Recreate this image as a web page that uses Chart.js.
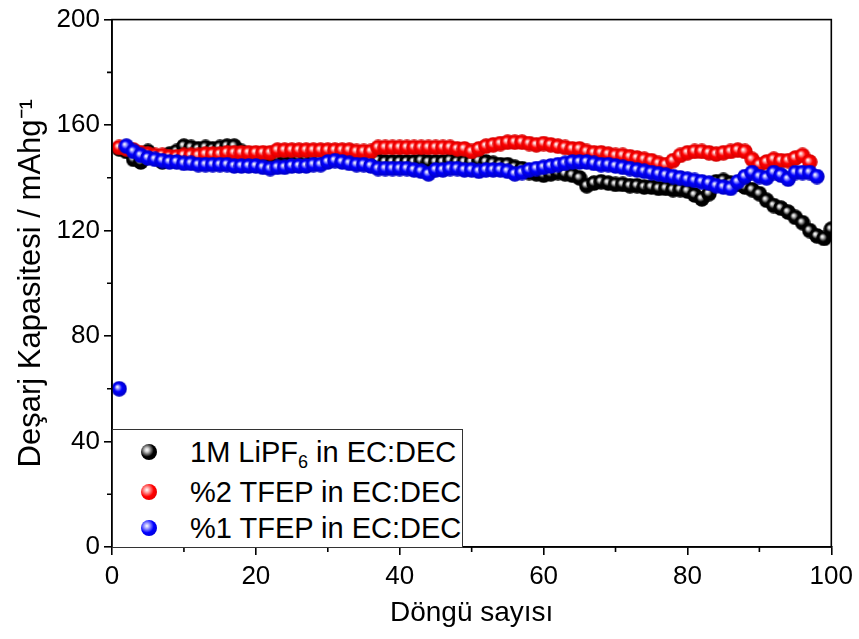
<!DOCTYPE html>
<html>
<head>
<meta charset="utf-8">
<script src="https://cdn.jsdelivr.net/npm/chart.js@4.4.0/dist/chart.umd.min.js"></script>
<style>
  html, body { margin: 0; padding: 0; background: #fff; }
  #wrap { position: relative; width: 859px; height: 639px; }
  #legend { position: absolute; left: 112px; top: 429px; width: 349px; height: 117px;
    border: 1px solid #333; background: #fff; font-family: "Liberation Sans", Arial, sans-serif; }
  .row { position: absolute; left: 0; height: 36px; width: 100%; }
  .mk { position: absolute; left: 28px; width: 16px; height: 16px; border-radius: 50%; }
  .tx { position: absolute; left: 77px; font-size: 29px; line-height: 36px; color: #000; white-space: nowrap; }
  .tx sub { font-size: 18px; vertical-align: -6px; line-height: 0; }
</style>
</head>
<body>
<div id="wrap">
  <canvas id="c" width="859" height="639"></canvas>
  <div id="legend"></div>
</div>
<script>
// ---- data ----
const seriesLabels = ['1M LiPF<sub>6</sub> in EC:DEC', '%2 TFEP in EC:DEC', '%1 TFEP in EC:DEC'];
const seriesLabelsPlain = ['1M LiPF\u2086 in EC:DEC', '%2 TFEP in EC:DEC', '%1 TFEP in EC:DEC'];
const xTicks = [0, 20, 40, 60, 80, 100];
const yTicks = [0, 40, 80, 120, 160, 200];

const lipf6 = [
  151, 150, 147, 146, 150, 148, 146, 149, 150, 152,
  151.5, 151, 151.5, 151, 151.5, 152, 152, 150, 149, 148.5,
  148.5, 148, 148, 148.5, 148.5, 148, 148, 148, 147.5, 147.5,
  147.5, 147.5, 147, 147, 147, 146.5, 146.5, 146, 146, 146,
  146, 146, 146.5, 146, 146, 146, 146.5, 146, 146, 146,
  146.5, 146, 145.5, 145, 145, 144, 143.5, 142, 141.5, 141,
  141.5, 142, 141.5, 141, 140, 137, 138, 138.5, 138, 137.5,
  137.5, 137, 137, 136.5, 136.5, 136, 136, 135.5, 135.5, 135,
  133.5, 132, 134, 138.5, 139, 138, 137.5, 136.5, 135.5, 134,
  131.5, 129.5, 128.5, 127, 125, 123, 120, 118, 117, 120.5
];
const tfep2 = [
  151.5, 151, 150.5, 149.5, 149, 148.5, 148.5, 148, 148, 148.5,
  148.5, 148.5, 149, 149, 149, 149.5, 149.5, 149.5, 149.5, 149.5,
  149.5, 149.5, 150.5, 150.5, 150.5, 150.5, 150.5, 150.5, 150.5, 150.5,
  150.5, 150.5, 150.5, 150, 150, 150, 151.5, 151.5, 151.5, 151.5,
  151.5, 151.5, 151.5, 151.5, 151.5, 151.5, 151.5, 151, 151, 150,
  151, 152, 152.5, 153, 153.5, 153.5, 153.5, 153, 152.5, 153,
  152.5, 152, 151.5, 151, 151, 150, 149.5, 149.5, 149, 148.5,
  148.5, 148, 147.5, 147, 146.5, 145.5, 145, 146.5, 148.5, 149.5,
  150, 150, 149.5, 149, 149.5, 150, 150.5, 150, 147, 145,
  146, 147, 146.5, 146.5, 147.5, 148.5, 146
];
const tfep1 = [
  60, 152, 150, 148.5, 147.5, 147, 146.5, 146, 146, 145.5,
  145.5, 145, 145, 145, 145, 145, 144.5, 144.5, 144.5, 144.5,
  144, 143.5, 144, 144, 144.5, 144.5, 144.5, 145, 145, 146,
  146.5, 146, 145.5, 145, 145, 144.5, 143.5, 143.5, 143.5, 143.5,
  143.5, 143, 142.5, 141.5, 143, 143, 143.5, 143.5, 143, 143,
  142.5, 143, 143, 143, 142.5, 141.5, 142, 143, 143.5, 144,
  144.5, 145, 145.5, 146, 146, 146, 145.5, 145, 145, 144.5,
  144, 143.5, 143, 142.5, 142, 141.5, 141, 140.5, 140, 139.5,
  139, 138.5, 138, 137, 136.5, 136, 138.5, 140.5, 142, 140.5,
  140, 142, 141, 139.5, 142, 142, 142, 140.5
];

// ---- styles ----
const sphereStyles = [
  { hl: '#cfcfcf', body: '#000000', edge: '#000000' },
  { hl: '#ffb8b8', body: '#ff0000', edge: '#d00000' },
  { hl: '#b8b8ff', body: '#0000ff', edge: '#0000c0' }
];
function sphere(s) {
  const d = 16, c = document.createElement('canvas');
  c.width = d; c.height = d;
  const x = c.getContext('2d');
  const g = x.createRadialGradient(d * 0.37, d * 0.37, 0.3, d / 2, d / 2, d / 2);
  g.addColorStop(0, '#ffffff');
  g.addColorStop(0.14, s.hl);
  g.addColorStop(0.48, s.body);
  g.addColorStop(1, s.edge);
  x.fillStyle = g;
  x.beginPath(); x.arc(d / 2, d / 2, d / 2 - 0.3, 0, Math.PI * 2); x.fill();
  return c;
}
const spheres = sphereStyles.map(sphere);
const toXY = arr => arr.map((v, i) => ({ x: i + 1, y: v }));

// legend (HTML)
const leg = document.getElementById('legend');
const rowTops = [4, 44, 80];
seriesLabels.forEach((lab, i) => {
  const r = document.createElement('div');
  r.className = 'row'; r.style.top = rowTops[i] + 'px';
  const m = document.createElement('div');
  m.className = 'mk'; m.style.top = '10px';
  const s = sphereStyles[i];
  m.style.background = `radial-gradient(circle at 37% 37%, #fff 0%, ${s.hl} 14%, ${s.body} 48%, ${s.edge} 100%)`;
  const t = document.createElement('div');
  t.className = 'tx'; t.innerHTML = lab;
  r.appendChild(m); r.appendChild(t); leg.appendChild(r);
});

const frame = {
  id: 'frame',
  afterDraw(chart) {
    const { ctx, chartArea: a, scales } = chart;
    ctx.save();
    ctx.strokeStyle = '#000'; ctx.lineWidth = 1.6;
    ctx.strokeRect(a.left, a.top, a.right - a.left, a.bottom - a.top);
    ctx.beginPath();
    [10, 30, 50, 70, 90].forEach(v => {
      const px = scales.x.getPixelForValue(v);
      ctx.moveTo(px, a.bottom); ctx.lineTo(px, a.bottom + 5);
    });
    [20, 60, 100, 140, 180].forEach(v => {
      const py = scales.y.getPixelForValue(v);
      ctx.moveTo(a.left, py); ctx.lineTo(a.left - 5, py);
    });
    ctx.stroke();
    ctx.restore();
  }
};

const font = 'Liberation Sans';
new Chart(document.getElementById('c'), {
  type: 'scatter',
  data: {
    datasets: [
      { label: seriesLabelsPlain[2], data: toXY(tfep1), pointStyle: spheres[2], order: 0 },
      { label: seriesLabelsPlain[1], data: toXY(tfep2), pointStyle: spheres[1], order: 1 },
      { label: seriesLabelsPlain[0], data: toXY(lipf6), pointStyle: spheres[0], order: 2 }
    ]
  },
  options: {
    responsive: false,
    animation: false,
    events: [],
    layout: { padding: { top: 14, right: 27, left: 0, bottom: 0 } },
    plugins: { legend: { display: false }, tooltip: { enabled: false } },
    scales: {
      x: {
        type: 'linear', min: 0, max: 100,
        afterFit(s) { s.height = 92; },
        afterBuildTicks(s) { s.ticks = xTicks.map(v => ({ value: v })); },
        ticks: { font: { family: font, size: 26 }, color: '#000', padding: 6, maxRotation: 0 },
        grid: { drawOnChartArea: false, drawTicks: true, tickLength: 8, color: '#000', lineWidth: 1.6 },
        border: { display: true, color: '#000', width: 1.6 },
        title: { display: true, text: 'Döngü sayısı', font: { family: font, size: 28 }, color: '#000', padding: { top: 0, bottom: 9 } }
      },
      y: {
        type: 'linear', min: 0, max: 200,
        afterFit(s) { s.width = 112; },
        afterBuildTicks(s) { s.ticks = yTicks.map(v => ({ value: v })); },
        ticks: { font: { family: font, size: 26 }, color: '#000', padding: 4 },
        grid: { drawOnChartArea: false, drawTicks: true, tickLength: 8, color: '#000', lineWidth: 1.6 },
        border: { display: true, color: '#000', width: 1.6 },
        title: { display: true, text: 'Deşarj Kapasitesi / mAhg\u207B\u00B9', font: { family: font, size: 31 }, color: '#000', padding: { top: 13, bottom: 0 } }
      }
    }
  },
  plugins: [frame]
});
</script>
</body>
</html>
